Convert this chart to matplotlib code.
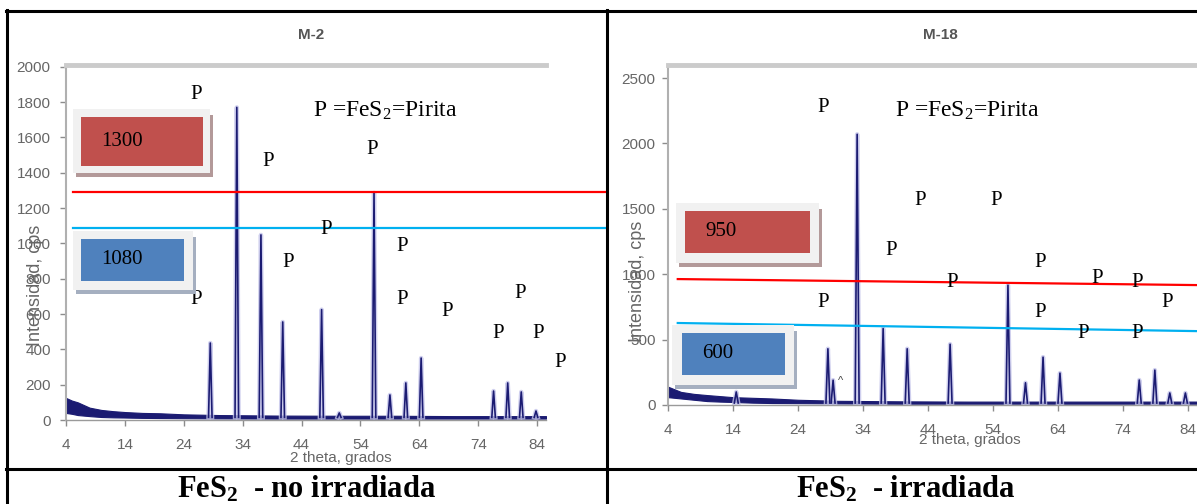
"""XRD patterns of pyrite (FeS2), non irradiated (M-2) and irradiated (M-18)."""
import matplotlib
matplotlib.use("Agg")
import matplotlib.pyplot as plt
from matplotlib import font_manager
from matplotlib.patches import Rectangle
from matplotlib.lines import Line2D

W, H = 1197, 504

# ---- data ----
# M-2 (no irradiada)
peaks_2theta_m2 = [28.5, 33.0, 37.1, 40.8, 47.4, 50.4, 56.3, 59.0, 61.7, 64.3, 76.6, 79.0, 81.3, 83.8]
peaks_cps_m2 = [436, 1770, 1048, 555, 625, 40, 1286, 142, 210, 351, 164, 210, 159, 51]
bg_2theta_m2 = [4, 5, 6, 7, 8, 10, 12, 14, 17, 20, 24, 30, 40, 50, 60, 70, 80, 85.5]
bg_low_m2 = [40, 35, 28, 25, 22, 17, 15, 14, 12, 11, 10, 9, 8, 8, 8, 8, 8, 8]
bg_high_m2 = [125, 110, 100, 85, 70, 57, 50, 45, 40, 38, 32, 28, 25, 24, 24, 22, 22, 22]
limits_m2 = [1290, 1085]          # red, blue
labels_m2 = ["1300", "1080"]

# M-18 (irradiada)
peaks_2theta_m18 = [14.5, 28.6, 29.4, 33.1, 37.1, 40.8, 47.4, 56.3, 59.0, 61.7, 64.3, 76.5, 78.9, 81.2, 83.6]
peaks_cps_m18 = [100, 430, 190, 2070, 585, 430, 465, 916, 170, 366, 244, 191, 267, 92, 92]
bg_2theta_m18 = [4, 5, 6, 8, 10, 12, 14, 17, 20, 24, 28, 30, 40, 50, 60, 70, 80, 86]
bg_low_m18 = [60, 55, 50, 40, 30, 26, 23, 18, 15, 14, 13, 12, 10, 10, 10, 10, 10, 10]
bg_high_m18 = [140, 120, 100, 85, 76, 68, 60, 55, 50, 40, 35, 32, 28, 26, 26, 26, 26, 26]
red_m18 = [963, 917]             # value at left end, right end
blue_m18 = [627, 565]
labels_m18 = ["950", "600"]

# "P" (pirita) markers, in data coordinates
p_x_m2 = [26.1, 38.3, 56.0, 48.1, 41.7, 61.0, 26.1, 61.0, 68.7, 81.1, 77.3, 84.1, 87.9]
p_y_m2 = [1841, 1461, 1529, 1076, 889, 985, 680, 680, 612, 714, 487, 487, 323]
p_x_m18 = [27.8, 42.8, 54.5, 38.3, 61.2, 47.7, 70.0, 76.2, 80.8, 27.8, 61.2, 67.8, 76.2]
p_y_m18 = [2278, 1567, 1567, 1185, 1086, 933, 971, 933, 787, 787, 711, 550, 550]

xticks = list(range(4, 85, 10))

# ---- fonts ----
names = {f.name for f in font_manager.fontManager.ttflist}
SANS = "Liberation Sans Narrow" if "Liberation Sans Narrow" in names else "Liberation Sans"
SERIF = "Liberation Serif"
plt.rcParams["font.family"] = [SANS, "DejaVu Sans"]
plt.rcParams["mathtext.default"] = "regular"

NAVY = "#1b1b72"
HALO = "#c4c4ea"
GRAY_TXT = "#666666"


def fx(px):
    return px / W


def fy(py):
    return 1 - py / H


fig = plt.figure(figsize=(W / 100, H / 100), dpi=100)


def setup_axes(rect_px, xlim, ylim, yticks, ypad):
    x0, y0, x1, y1 = rect_px
    ax = fig.add_axes([fx(x0), fy(y1), (x1 - x0) / W, (y1 - y0) / H])
    ax.set_xlim(*xlim)
    ax.set_ylim(*ylim)
    ax.set_xticks(xticks)
    ax.set_yticks(yticks)
    ax.spines["right"].set_visible(False)
    ax.spines["left"].set_color("#b0b0b0")
    ax.spines["left"].set_linewidth(1.5)
    ax.spines["top"].set_color("#cbcbcb")
    ax.spines["top"].set_linewidth(3.5)
    ax.spines["bottom"].set_color("#9a9a9a")
    ax.spines["bottom"].set_linewidth(1)
    ax.tick_params(colors="#8c8c8c", labelcolor=GRAY_TXT, length=4, width=1,
                   labelsize=11)
    ax.tick_params(axis="x", pad=9)
    ax.tick_params(axis="y", pad=ypad)
    return ax


def draw_trace(ax, bx, lo, hi, px, py):
    ax.fill_between(bx, lo, hi, color=NAVY, lw=0.8, zorder=2)
    for p, h in zip(px, py):
        xs = [p - 0.3, p, p + 0.3]
        ys = [15, h, 15]
        ax.plot(xs, ys, color=HALO, lw=3.2, alpha=0.8, zorder=2.5)
        ax.plot(xs, ys, color=NAVY, lw=1.2, zorder=3)


def draw_p(ax, xs, ys):
    for x, y in zip(xs, ys):
        ax.text(x, y, "P", family=SERIF, fontsize=15, ha="center", va="center",
                zorder=6, clip_on=False)


def box(frame, fill, fill_color, shadow_color, label):
    fx0, fy0, fx1, fy1 = frame
    # shadow (right and bottom)
    fig.add_artist(Rectangle((fx(fx1), fy(fy1 + 4)), 3 / W, (fy1 - fy0 - 2) / H,
                             transform=fig.transFigure, color=shadow_color, lw=0))
    fig.add_artist(Rectangle((fx(fx0 + 3), fy(fy1 + 4)), (fx1 - fx0) / W, 4 / H,
                             transform=fig.transFigure, color=shadow_color, lw=0))
    fig.add_artist(Rectangle((fx(fx0), fy(fy1)), (fx1 - fx0) / W, (fy1 - fy0) / H,
                             transform=fig.transFigure, color="#f1f1f1", lw=0))
    x0, y0, x1, y1 = fill
    fig.add_artist(Rectangle((fx(x0), fy(y1)), (x1 - x0) / W, (y1 - y0) / H,
                             transform=fig.transFigure, color=fill_color, lw=0))
    fig.text(fx(x0 + 20), fy((y0 + y1) / 2), label, family=SERIF, fontsize=15,
             ha="left", va="center")


# ---- left panel: M-2 ----
ax1 = setup_axes((66, 65, 546, 420), (4, 85.5), (0, 2010), range(0, 2001, 200), 7)
draw_trace(ax1, bg_2theta_m2, bg_low_m2, bg_high_m2, peaks_2theta_m2, peaks_cps_m2)
ax1.plot([5.2, 95.9], [limits_m2[0]] * 2, color="#ff0000", lw=1.6, zorder=4, clip_on=False)
ax1.plot([5.2, 95.9], [limits_m2[1]] * 2, color="#00b0f0", lw=1.6, zorder=4, clip_on=False)
draw_p(ax1, p_x_m2, p_y_m2)

# ---- right panel: M-18 ----
ax2 = setup_axes((668, 65, 1201, 405), (4, 86), (0, 2600), range(0, 2501, 500), 5)
draw_trace(ax2, bg_2theta_m18, bg_low_m18, bg_high_m18, peaks_2theta_m18, peaks_cps_m18)
ax2.plot([5.5, 85.4], red_m18, color="#ff0000", lw=1.6, zorder=4, clip_on=False)
ax2.plot([5.5, 85.4], blue_m18, color="#00b0f0", lw=1.6, zorder=4, clip_on=False)
ax2.text(30.5, 180, "^", fontsize=8, color="#444444", ha="center", va="center", zorder=6)
draw_p(ax2, p_x_m18, p_y_m18)

# chart texts
for x, t in [(311, "M-2"), (940, "M-18")]:
    fig.text(fx(x), fy(35), t, fontsize=11, weight="bold", color="#555555",
             ha="center", va="center")
for x, y in [(341, 458), (970, 440)]:
    fig.text(fx(x), fy(y), "2 theta, grados", fontsize=11, color=GRAY_TXT,
             ha="center", va="center")
for x, y in [(36, 285), (638, 281)]:
    fig.text(fx(x), fy(y), "Intensidad, cps", fontsize=13, color=GRAY_TXT,
             rotation=90, ha="center", va="center")
for x in [313, 895]:
    fig.text(fx(x), fy(117), "P =FeS$_2$=Pirita", family=SERIF, fontsize=17,
             ha="left", va="baseline")

# value boxes
box((73, 109, 210, 173), (81, 117, 203, 166), "#c0504d", "#b39999", labels_m2[0])
box((73, 231, 193, 290), (81, 239, 184, 281), "#4f81bd", "#a5afc0", labels_m2[1])
box((676, 203, 819, 263), (685, 211, 810, 253), "#c0504d", "#b39999", labels_m18[0])
box((672, 325, 794, 385), (682, 333, 785, 375), "#4f81bd", "#a5afc0", labels_m18[1])

# table borders
for xs, ys in [((6, 1197), (11, 11)), ((7, 7), (10, 504)), ((607, 607), (10, 504)),
               ((6, 1197), (469, 469))]:
    fig.add_artist(Line2D([fx(v) for v in xs], [fy(v) for v in ys],
                          transform=fig.transFigure, color="black", lw=2.2))

# captions
fig.text(fx(307), fy(498), "FeS$_2$  - no irradiada", family=SERIF, weight="bold",
         fontsize=22, ha="center", va="baseline")
fig.text(fx(906), fy(498), "FeS$_2$  - irradiada", family=SERIF, weight="bold",
         fontsize=22, ha="center", va="baseline")

fig.savefig("out.png", dpi=100)
